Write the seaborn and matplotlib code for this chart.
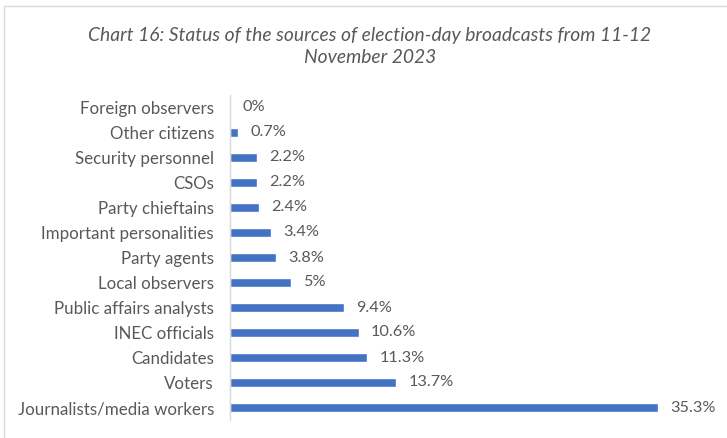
import matplotlib
matplotlib.use("Agg")
import matplotlib.pyplot as plt
import seaborn as sns
import pandas as pd
from matplotlib.patches import Rectangle

categories = [
    "Foreign observers",
    "Other citizens",
    "Security personnel",
    "CSOs",
    "Party chieftains",
    "Important personalities",
    "Party agents",
    "Local observers",
    "Public affairs analysts",
    "INEC officials",
    "Candidates",
    "Voters",
    "Journalists/media workers",
]
values = [0, 0.7, 2.2, 2.2, 2.4, 3.4, 3.8, 5, 9.4, 10.6, 11.3, 13.7, 35.3]
value_labels = ["0%", "0.7%", "2.2%", "2.2%", "2.4%", "3.4%", "3.8%", "5%",
                "9.4%", "10.6%", "11.3%", "13.7%", "35.3%"]
title = "Chart 16: Status of the sources of election-day broadcasts from 11-12\nNovember 2023"

df = pd.DataFrame({"source": categories, "share": values})

sns.set_theme(style="white")
plt.rcParams["font.family"] = ["Lato", "DejaVu Sans"]

text_color = "#595959"
bar_color = "#4472C4"
line_color = "#D9D9D9"

W, H = 727, 438
fig = plt.figure(figsize=(W / 100, H / 100), dpi=100)

# chart frame (left and top edges visible)
fig.patches.append(Rectangle((4 / W, -0.1), 1.2, (H - 6) / H + 0.1,
                             transform=fig.transFigure, fill=False,
                             edgecolor=line_color, linewidth=1.0))

ax_left, ax_right = 230, 715
ax_top, ax_bottom = 95, 420
ax = fig.add_axes([ax_left / W, (H - ax_bottom) / H,
                   (ax_right - ax_left) / W, (ax_bottom - ax_top) / H])

sns.barplot(data=df, y="source", x="share", orient="h", color=bar_color,
            width=0.36, saturation=1, ax=ax)

ax.set_xlim(0, 40)
ax.set_ylim(len(categories) - 0.5, -0.5)
ax.set_xlabel("")
ax.set_ylabel("")
ax.set_xticks([])
ax.tick_params(axis="y", length=0, pad=11.5, labelsize=12.2, labelcolor=text_color)
for s in ["top", "right", "bottom"]:
    ax.spines[s].set_visible(False)
ax.spines["left"].set_color(line_color)
ax.spines["left"].set_linewidth(1.0)

for i, (v, lab) in enumerate(zip(values, value_labels)):
    ax.annotate(lab, xy=(v, i), xytext=(9, 0), textcoords="offset points",
                ha="left", va="center", fontsize=11.7, color=text_color)

fig.text(370 / W, 1 - 46.5 / H, title, ha="center", va="center", fontsize=13.9,
         style="italic", color=text_color, linespacing=1.3)

fig.savefig("out.png", dpi=100)
